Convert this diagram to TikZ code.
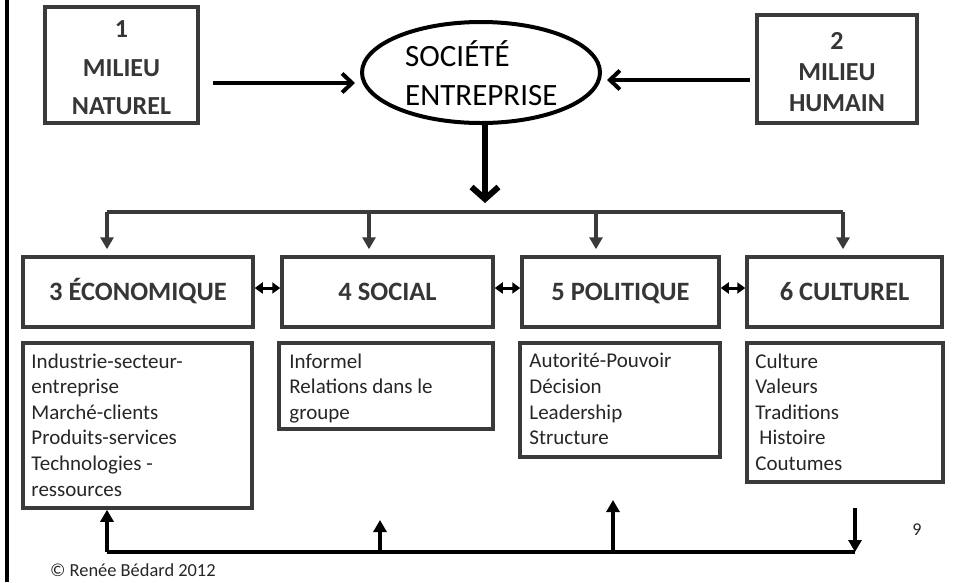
\documentclass[tikz,border=0pt]{standalone}
\usepackage{fontspec}
\setmainfont{Carlito}
\usetikzlibrary{arrows.meta,shapes.geometric}
\definecolor{boxgray}{HTML}{3A3A3A}
\definecolor{txtgray}{HTML}{363636}
\definecolor{bodytxt}{HTML}{262626}
\begin{document}
\begin{tikzpicture}[x=1pt,y=-1pt,
  topbox/.style={draw=boxgray, line width=3.5pt, inner sep=0pt},
  toptext/.style={anchor=base, inner sep=0pt, font=\fontsize{26}{31}\selectfont\bfseries, text=txtgray},
  titlebox/.style={draw=boxgray, line width=3.5pt, inner sep=0pt, minimum height=70pt,
    text height=17pt, text depth=0pt,
    font=\fontsize{26.5}{31}\selectfont\bfseries, text=txtgray},
  descbox/.style={draw=boxgray, line width=3.5pt, inner sep=0pt},
  desctext/.style={anchor=north west, align=left, inner sep=0pt,
    font=\fontsize{21}{25.6}\selectfont, text=bodytxt},
  ellipsetext/.style={anchor=base west, inner sep=0pt, font=\fontsize{31}{38}\selectfont},
  bigarrow/.style={line width=4pt, -{Straight Barb[length=10pt,width=19pt]}},
  brackline/.style={draw=boxgray, line width=3.5pt},
  brackarrow/.style={draw=boxgray, line width=3.5pt, -{Triangle[length=12pt,width=13pt]}},
  linkarrow/.style={draw=black, line width=3pt, {Triangle[length=8pt,width=11pt]}-{Triangle[length=8pt,width=11pt]}},
  bottomline/.style={draw=black, line width=4pt},
  bottomarrow/.style={draw=black, line width=4pt, -{Triangle[length=12pt,width=13pt]}}
]
\useasboundingbox (0,0) rectangle (953,582);
% left border line
\coordinate (lt) at (7,0);
\coordinate (lb) at (7,582);
\draw[line width=4pt] (lt) -- (lb);

% top row
\node[topbox, minimum width=153pt, minimum height=116pt] (b1) at (121.5,65) {};
\node[toptext] (b1a) at (121.5,37) {1};
\node[toptext] (b1b) at (121.5,76) {MILIEU};
\node[toptext] (b1c) at (121.5,114) {NATUREL};
\node[topbox, minimum width=160pt, minimum height=108pt] (b2) at (837,69) {};
\node[toptext] (b2a) at (837,49) {2};
\node[toptext] (b2b) at (837,80.5) {MILIEU};
\node[toptext] (b2c) at (837,111) {HUMAIN};
\node[draw=black, line width=4pt, ellipse, inner sep=0pt,
  minimum width=238pt, minimum height=101pt] (e) at (481,72.5) {};
\node[ellipsetext] (et1) at (405,66.7) {SOCIÉTÉ};
\node[ellipsetext] (et2) at (405,105) {ENTREPRISE};

\coordinate (a1s) at (213,83);
\coordinate (a1e) at (355,83);
\coordinate (a2s) at (750,80);
\coordinate (a2e) at (607,80);
\draw[bigarrow] (a1s) -- (a1e);
\draw[bigarrow] (a2s) -- (a2e);

% down arrow from ellipse
\coordinate (ds) at (485,125);
\coordinate (de) at (485,203);
\draw[line width=6pt, -{Straight Barb[length=12pt,width=27pt]}] (ds) -- (de);

% title boxes
\node[titlebox, minimum width=230pt] (t3) at (138,292) {3 ÉCONOMIQUE};
\node[titlebox, minimum width=211pt] (t4) at (387.5,292) {4 SOCIAL};
\node[titlebox, minimum width=197pt] (t5) at (620.5,292) {5 POLITIQUE};
\node[titlebox, minimum width=195pt] (t6) at (844.5,292) {6 CULTUREL};

% bracket
\coordinate (k3) at (107,212);
\coordinate (k4) at (369,212);
\coordinate (k5) at (596,212);
\coordinate (k6) at (843,212);
\draw[brackline] (k3) -- (k6);
\draw[brackarrow, shorten >=6pt] (k3) -- (k3 |- t3.north);
\draw[brackarrow, shorten >=6pt] (k4) -- (k4 |- t4.north);
\draw[brackarrow, shorten >=6pt] (k5) -- (k5 |- t5.north);
\draw[brackarrow, shorten >=6pt] (k6) -- (k6 |- t6.north);

% links between title boxes
\draw[linkarrow] ([yshift=4pt]t3.east) -- ([yshift=4pt]t4.west);
\draw[linkarrow] ([yshift=4pt]t4.east) -- ([yshift=4pt]t5.west);
\draw[linkarrow] ([yshift=4pt]t5.east) -- ([yshift=4pt]t6.west);

% description boxes
\node[descbox, minimum width=229pt, minimum height=165pt] (d3) at (137.5,425.5) {};
\node[descbox, minimum width=214pt, minimum height=86pt] (d4) at (386,386) {};
\node[descbox, minimum width=200pt, minimum height=114pt] (d5) at (620,400) {};
\node[descbox, minimum width=196pt, minimum height=139pt] (d6) at (845,412.5) {};

\node[desctext] (x3) at ([xshift=10pt,yshift=-12pt]d3.north west)
  {Industrie-secteur-\\entreprise\\Marché-clients\\Produits-services\\Technologies -\\ressources};
\node[desctext] (x4) at ([xshift=12pt,yshift=-12pt]d4.north west)
  {Informel\\Relations dans le\\groupe};
\node[desctext] (x5) at ([xshift=11pt,yshift=-12pt]d5.north west)
  {Autorité-Pouvoir\\Décision\\Leadership\\Structure};
\node[desctext] (x6) at ([xshift=10pt,yshift=-12pt]d6.north west)
  {Culture\\Valeurs\\Traditions\\\hspace*{4pt}Histoire\\Coutumes};

% bottom feedback line
\coordinate (q1) at (107,552);
\coordinate (q2) at (380,552);
\coordinate (q3) at (613,552);
\coordinate (q4) at (855,552);
\coordinate (p2) at (380,520);
\coordinate (p3) at (613,500);
\coordinate (p4) at (855,508);
\draw[bottomline] (q1) -- (q4);
\draw[bottomarrow] (q1) -- (q1 |- d3.south);
\draw[bottomarrow] (q2) -- (p2);
\draw[bottomarrow] (q3) -- (p3);
\draw[bottomarrow] (p4) -- (q4);

% page number and copyright
\node[font=\fontsize{18}{20}\selectfont, text=bodytxt] (pg) at (917,530) {9};
\node[anchor=west, inner sep=0pt, font=\fontsize{18.4}{20}\selectfont, text=bodytxt] (cp) at (50,570) {© Renée Bédard 2012};
\end{tikzpicture}
\end{document}
